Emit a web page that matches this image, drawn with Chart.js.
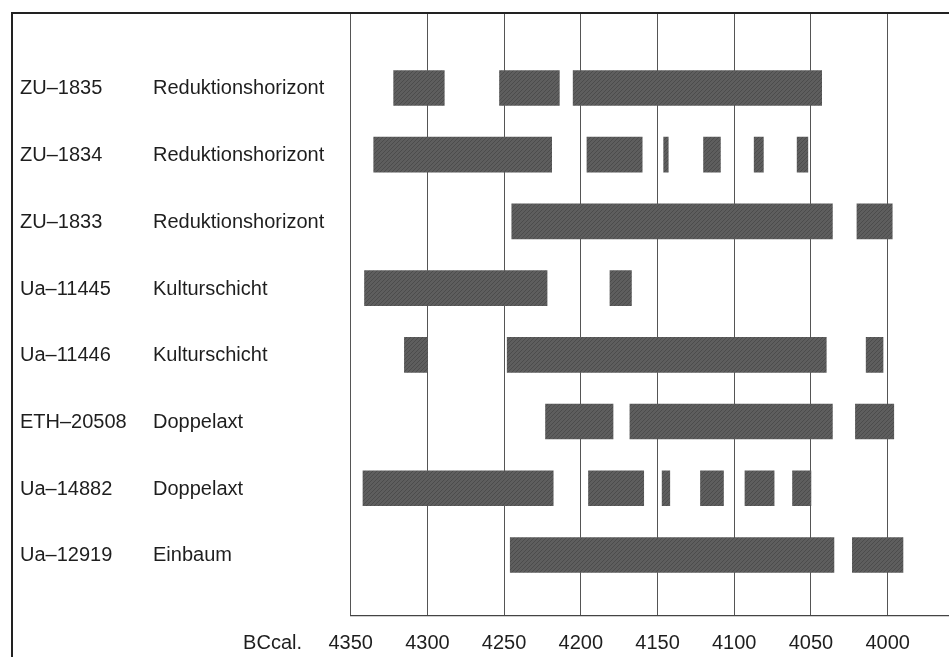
<!DOCTYPE html>
<html>
<head>
<meta charset="utf-8">
<script src="https://cdn.jsdelivr.net/npm/chart.js@4"></script>
<style>
  html, body { margin: 0; padding: 0; background: #fff; }
  #wrap { position: relative; width: 949px; height: 657px; }
  #frame { position: absolute; left: 11px; top: 12px; right: 0; bottom: 0;
           border-left: 2px solid #222; border-top: 2px solid #222; pointer-events: none; }
</style>
</head>
<body>
<div id="wrap">
  <canvas id="datesChart" width="949" height="657"></canvas>
  <div id="frame"></div>
</div>
<script>
// sample ids and contexts (rows, top to bottom)
const rowIds = ["ZU–1835", "ZU–1834", "ZU–1833", "Ua–11445", "Ua–11446", "ETH–20508", "Ua–14882", "Ua–12919"];
const rowContexts = ["Reduktionshorizont", "Reduktionshorizont", "Reduktionshorizont", "Kulturschicht",
  "Kulturschicht", "Doppelaxt", "Doppelaxt", "Einbaum"];

// calibrated ranges, years BC (from, to)
const rangesZU1835 = [[4322, 4289], [4253, 4214], [4205, 4043]];
const rangesZU1834 = [[4335, 4219], [4196, 4160], [4146, 4143], [4120, 4109], [4087, 4081], [4059, 4052]];
const rangesZU1833 = [[4245, 4036], [4020, 3997]];
const rangesUa11445 = [[4341, 4222], [4181, 4167]];
const rangesUa11446 = [[4315, 4300], [4248, 4040], [4014, 4003]];
const rangesETH20508 = [[4223, 4179], [4168, 4036], [4021, 3996]];
const rangesUa14882 = [[4342, 4218], [4195, 4159], [4147, 4142], [4122, 4107], [4093, 4074], [4062, 4050]];
const rangesUa12919 = [[4246, 4035], [4023, 3990]];

const rowRanges = [rangesZU1835, rangesZU1834, rangesZU1833, rangesUa11445,
  rangesUa11446, rangesETH20508, rangesUa14882, rangesUa12919];

const yearTicks = [4350, 4300, 4250, 4200, 4150, 4100, 4050, 4000];

const FONT = "'Liberation Sans', Arial, Helvetica, sans-serif";
const TEXT_COLOR = "#1e1e1e";

// fine diagonal hatch, like the printed raster
function makeHatch() {
  const c = document.createElement("canvas");
  c.width = 4; c.height = 4;
  const g = c.getContext("2d");
  g.fillStyle = "#5e5e5e";
  g.fillRect(0, 0, 4, 4);
  g.fillStyle = "#4c4c4c";
  for (let i = 0; i < 4; i++) g.fillRect(i, 3 - i, 1, 1);
  return g.createPattern(c, "repeat");
}

// two label columns on the left plus the "BCcal." caption
const rowLabels = {
  id: "rowLabels",
  afterDraw(chart) {
    const ctx = chart.ctx;
    const y = chart.scales.y;
    const x = chart.scales.x;
    ctx.save();
    ctx.fillStyle = TEXT_COLOR;
    ctx.font = "20px " + FONT;
    ctx.textBaseline = "middle";
    ctx.textAlign = "left";
    rowIds.forEach((label, i) => {
      const py = y.getPixelForValue(i + 1) + 1;
      ctx.fillText(label, 20, py);
      ctx.fillText(rowContexts[i], 153, py);
    });
    ctx.textAlign = "right";
    ctx.fillText("BCcal.", 302, x.bottom - 14);
    ctx.restore();
  }
};

const data = {
  datasets: [{
    data: rowRanges.flatMap((ranges, i) => ranges.map(r => ({ x: r, y: i + 1 }))),
    backgroundColor: makeHatch(),
    borderWidth: 0,
    borderSkipped: false,
    barThickness: 35,
  }]
};

new Chart(document.getElementById("datesChart"), {
  type: "bar",
  data: data,
  plugins: [rowLabels],
  options: {
    indexAxis: "y",
    responsive: false,
    animation: false,
    layout: { padding: { left: 350.7, top: 13, right: 0, bottom: 0 } },
    plugins: { legend: { display: false }, tooltip: { enabled: false } },
    scales: {
      x: {
        type: "linear",
        reverse: true,
        min: 3960,
        max: 4350,
        afterBuildTicks: axis => { axis.ticks = yearTicks.map(v => ({ value: v })); },
        afterFit: axis => { axis.height = 41; },
        grid: { color: "#555", lineWidth: 1, drawTicks: false },
        border: { display: true, color: "#444", width: 1.2 },
        ticks: {
          color: TEXT_COLOR,
          font: { family: FONT, size: 20 },
          padding: 15,
          maxRotation: 0,
          callback: v => String(v),
        },
      },
      y: {
        type: "linear",
        reverse: true,
        offset: false,
        min: -0.124,
        max: 8.915,
        display: false,
      }
    }
  }
});
</script>
</body>
</html>
